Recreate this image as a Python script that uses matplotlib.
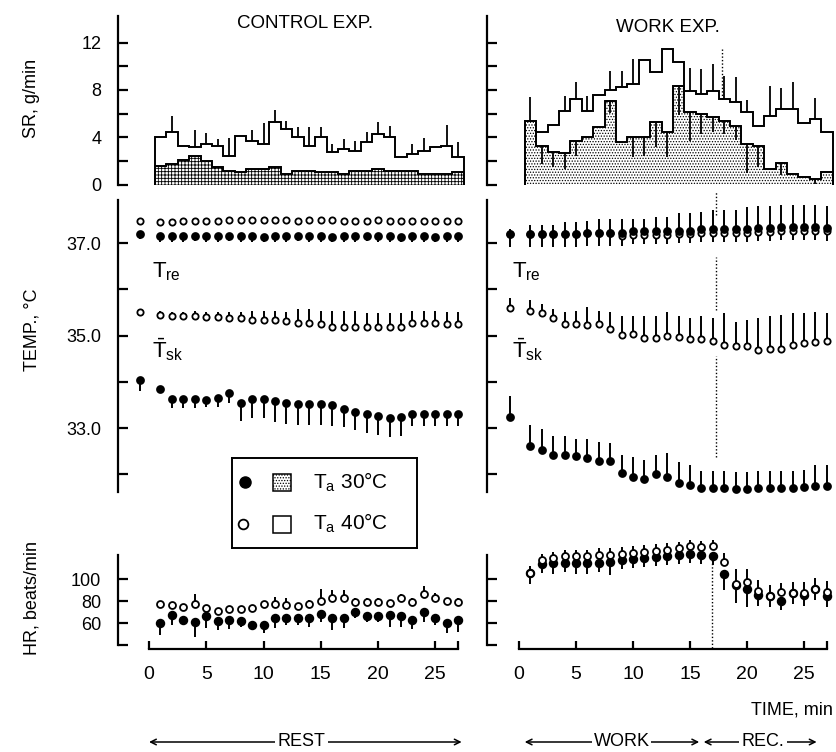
import matplotlib.pyplot as plt
from matplotlib.transforms import blended_transform_factory
import numpy as np

plt.rcParams['font.family'] = ['Liberation Sans', 'DejaVu Sans']
plt.rcParams['mathtext.fontset'] = 'custom'
plt.rcParams['mathtext.rm'] = 'Liberation Sans'
plt.rcParams['mathtext.it'] = 'Liberation Sans'
plt.rcParams['hatch.linewidth'] = 0.6

# time points in minutes; temperature lists start with a pre-exposure reading
minutes = list(range(1, 28))
t_pre = -0.8
t_temp = [t_pre] + minutes
bar_edges = [m - 0.5 for m in minutes] + [minutes[-1] + 0.5]
rec_start = 17

# sweat rate (g/min), control (rest) experiment
sr_ctrl_40 = [4.06, 4.42, 3.3, 3.15, 3.44, 3.3, 2.37, 4.14, 3.72, 3.44, 5.27, 4.7, 4.0, 3.3,
              4.0, 2.73, 3.0, 2.87, 3.58, 4.28, 4.06, 2.31, 2.6, 2.87, 3.15, 3.3, 2.31]
sr_ctrl_40_sd = [0, 1.4, 0, 1.45, 0.9, 0.55, 1.6, 0, 0.85, 1.75, 1.0, 0.7, 0.85, 1.55,
                 0.85, 0.7, 0.85, 0.85, 0.85, 1.0, 0.85, 0, 0.85, 1.1, 0, 1.7, 1.27]
sr_ctrl_30 = [1.6, 1.75, 2.09, 2.45, 2.03, 1.47, 1.18, 1.04, 1.33, 1.33, 1.47, 0.9, 1.18, 1.18,
              1.04, 1.04, 0.9, 1.13, 1.18, 1.33, 1.13, 1.18, 1.13, 0.9, 0.85, 0.9, 1.04]
sr_ctrl_30_sd = [0] * 27

# sweat rate (g/min), work experiment
sr_work_40 = [5.41, 4.42, 5.07, 6.26, 7.24, 6.26, 7.58, 8.0, 8.23, 8.51, 10.54, 9.5, 11.47, 10.34,
              7.89, 7.67, 7.89, 7.24, 6.96, 6.11, 4.99, 5.83, 6.4, 6.4, 5.18, 5.55, 4.42]
sr_work_40_sd = [1.97, 0, 0, 1.27, 1.41, 1.27, 0, 1.63, 1.35, 2.1, 0, 0, 0, 0,
                 2.0, 2.1, 2.3, 1.97, 2.1, 1.0, 0, 2.5, 1.8, 2.25, 0, 1.8, 0]
sr_work_30 = [5.41, 3.3, 2.73, 2.65, 3.72, 4.0, 4.9, 7.04, 3.58, 4.0, 4.0, 5.27, 4.42, 8.37,
              6.11, 5.98, 5.75, 5.41, 4.99, 3.44, 3.3, 1.33, 1.8, 0.9, 0.62, 0.48, 1.04]
sr_work_30_sd = [0, 1.55, 1.27, 1.3, 1.27, 0, 0, 1.0, 0, 1.7, 1.55, 2.1, 2.1, 2.5,
                 2.4, 1.7, 1.3, 1.1, 1.2, 2.5, 1.8, 0, 1.0, 0, 0, 0.4, 0]

# rectal temperature (deg C)
tre_ctrl_40 = [37.48, 37.45, 37.46, 37.47, 37.48, 37.48, 37.48, 37.5, 37.5, 37.5, 37.5, 37.5, 37.5, 37.48,
               37.5, 37.5, 37.5, 37.48, 37.48, 37.48, 37.5, 37.48, 37.48, 37.48, 37.48, 37.48, 37.48, 37.48]
tre_ctrl_30 = [37.2, 37.15, 37.15, 37.15, 37.16, 37.15, 37.15, 37.16, 37.15, 37.15, 37.14, 37.15, 37.15, 37.16,
               37.15, 37.15, 37.14, 37.15, 37.15, 37.16, 37.15, 37.15, 37.14, 37.15, 37.15, 37.14, 37.15, 37.15]
tre_work_40 = [37.2, 37.2, 37.2, 37.2, 37.2, 37.2, 37.22, 37.22, 37.22, 37.16, 37.17, 37.17, 37.17, 37.17,
               37.19, 37.19, 37.22, 37.22, 37.22, 37.22, 37.22, 37.24, 37.24, 37.27, 37.27, 37.27, 37.27, 37.25]
tre_work_40_sd = [0.1, 0.2, 0.2, 0.2, 0.25, 0.25, 0.25, 0.3, 0.3, 0.35, 0.35, 0.35, 0.4, 0.4,
                  0.45, 0.45, 0.45, 0.5, 0.5, 0.5, 0.55, 0.55, 0.55, 0.55, 0.55, 0.55, 0.55, 0.55]
tre_work_30 = [37.2, 37.2, 37.2, 37.2, 37.2, 37.2, 37.22, 37.22, 37.22, 37.22, 37.25, 37.25, 37.25, 37.25,
               37.27, 37.27, 37.3, 37.3, 37.3, 37.3, 37.3, 37.32, 37.32, 37.35, 37.35, 37.35, 37.35, 37.33]

# mean skin temperature (deg C)
tsk_ctrl_40 = [35.52, 35.45, 35.43, 35.43, 35.43, 35.41, 35.41, 35.37, 35.37, 35.34, 35.34, 35.34, 35.32, 35.28,
               35.28, 35.24, 35.19, 35.19, 35.19, 35.19, 35.19, 35.19, 35.19, 35.28, 35.28, 35.28, 35.26, 35.26]
tsk_ctrl_40_sd = [0.05, 0.08, 0.08, 0.08, 0.1, 0.1, 0.1, 0.15, 0.15, 0.2, 0.2, 0.2, 0.2, 0.3,
                  0.3, 0.3, 0.35, 0.35, 0.35, 0.3, 0.3, 0.3, 0.3, 0.25, 0.25, 0.25, 0.25, 0.25]
tsk_ctrl_30 = [34.05, 33.85, 33.64, 33.64, 33.64, 33.61, 33.66, 33.75, 33.55, 33.62, 33.62, 33.59, 33.54, 33.52,
               33.52, 33.52, 33.5, 33.42, 33.35, 33.3, 33.26, 33.21, 33.23, 33.3, 33.3, 33.3, 33.3, 33.3]
tsk_ctrl_30_sd = [0.25, 0, 0.2, 0.2, 0.2, 0.15, 0.2, 0.2, 0.4, 0.4, 0.4, 0.45, 0.45, 0.45,
                  0.45, 0.45, 0.45, 0.4, 0.4, 0.4, 0.4, 0.4, 0.4, 0.25, 0.25, 0.25, 0.25, 0.25]
tsk_work_40 = [35.59, 35.53, 35.48, 35.38, 35.26, 35.24, 35.22, 35.24, 35.14, 35.02, 35.04, 34.95, 34.95, 34.99,
               34.97, 34.92, 34.92, 34.88, 34.79, 34.78, 34.78, 34.68, 34.7, 34.72, 34.8, 34.83, 34.86, 34.88]
tsk_work_40_sd = [0.22, 0.24, 0.2, 0.2, 0.25, 0.3, 0.4, 0.3, 0.38, 0.4, 0.38, 0.48, 0.48, 0.52,
                  0.45, 0.45, 0.5, 0.5, 0.69, 0.52, 0.55, 0.69, 0.72, 0.72, 0.68, 0.65, 0.64, 0.6]
tsk_work_30 = [33.25, 32.61, 32.53, 32.43, 32.43, 32.39, 32.35, 32.3, 32.3, 32.02, 31.95, 31.91, 32.0, 31.95,
               31.82, 31.78, 31.7, 31.7, 31.7, 31.68, 31.68, 31.7, 31.7, 31.7, 31.7, 31.72, 31.76, 31.76]
tsk_work_30_sd = [0.45, 0.45, 0.45, 0.39, 0.39, 0.37, 0.42, 0.4, 0.37, 0.39, 0.43, 0.4, 0.42, 0.52,
                  0.45, 0.42, 0.37, 0.37, 0.37, 0.37, 0.37, 0.37, 0.37, 0.37, 0.37, 0.37, 0.45, 0.45]

# heart rate (beats/min)
hr_ctrl_40 = [77.8, 76.4, 74.8, 77.2, 73.4, 71.2, 72.4, 72.4, 73.4, 77.2, 77.8, 76.4, 75.4, 77.8,
              80.2, 82.4, 82.4, 79.4, 79.4, 79.4, 78.4, 82.4, 79.4, 86.4, 82.4, 80.2, 79.4]
hr_ctrl_40_sd = [2, 3, 3, 9.6, 3, 2, 2, 2, 3, 3, 6, 6, 3, 3,
                 11, 7.6, 8, 3, 3, 3, 3, 4, 3, 7.2, 5, 3, 3]
hr_ctrl_30 = [59.6, 67.2, 63.2, 61.2, 66.4, 62.0, 63.2, 62.0, 58.2, 58.2, 64.8, 64.8, 64.2, 64.8,
              68.2, 64.8, 64.2, 70.2, 66.4, 66.4, 67.2, 66.4, 63.2, 70.2, 64.8, 60.2, 62.6]
hr_ctrl_30_sd = [10.6, 9, 5.2, 13.6, 11.2, 8.4, 8.2, 5.4, 3, 7.6, 9.6, 6.6, 6, 8.2,
                 7, 11.2, 9, 6, 5.2, 5.2, 10.6, 9.6, 9, 9, 6.6, 9.6, 10.6]
hr_work_40 = [106, 117, 119, 121, 121, 121, 122, 122, 123, 124, 125, 126, 127, 128,
              130, 129, 130, 115.7, 95.5, 97.5, 89.4, 84.5, 88.5, 87.7, 87, 90.7, 88.5]
hr_work_40_sd = [6, 6, 6, 6, 6, 6, 6, 6, 6, 6, 6, 6, 6, 6,
                 6, 6, 6, 8, 14, 12, 10, 10, 8, 10, 10, 10, 10]
hr_work_30 = [105.2, 113.8, 114.8, 114.8, 114.8, 114.8, 114.8, 115.8, 117, 118, 119, 120, 121, 122,
              123, 122, 121, 104.5, 94.5, 90.6, 85.5, 84.5, 80.3, 87.5, 85.5, 90.6, 84.5]
hr_work_30_sd = [10, 8, 10, 8, 10, 10, 8, 12, 8, 8, 8, 8, 8, 8,
                 8, 8, 8, 14, 16, 16, 10, 10, 8, 10, 10, 10, 10]

W, H = 836, 752
fig = plt.figure(figsize=(W / 100, H / 100), dpi=100)


def box(x0, y0, x1, y1):
    return [x0 / W, 1 - y1 / H, (x1 - x0) / W, (y1 - y0) / H]


cols = {'ctrl': (118, 470, (-2.71, 28.03)), 'work': (487, 836, (-2.81, 27.8))}
rows = {'sr': (15.5, 184.5, (0, 14.3), [0, 4, 8, 12], [2, 6, 10], '{:.0f}'),
        'temp': (200, 492, (31.62, 37.93), [33, 35, 37], [32, 34, 36], '{:.1f}'),
        'hr': (555, 645, (40, 122), [60, 80, 100], [40], '{:.0f}')}

axes = {}
for c, (x0, x1, xl) in cols.items():
    for r, (y0, y1, yl, major, minor, fmt) in rows.items():
        ax = fig.add_axes(box(x0, y0, x1, y1))
        ax.patch.set_visible(False)
        for s in ['top', 'right', 'bottom']:
            ax.spines[s].set_visible(False)
        ax.spines['left'].set_linewidth(1.6)
        ax.set_xlim(xl)
        ax.set_ylim(yl)
        ax.set_xticks([])
        ax.set_yticks(major)
        ax.set_yticks(minor, minor=True)
        ax.tick_params(axis='y', which='both', direction='in', length=7, width=1.6,
                       pad=12, labelsize=13)
        if c == 'ctrl':
            ax.set_yticklabels([fmt.format(v) for v in major])
        else:
            ax.set_yticklabels([])
        axes[(c, r)] = ax


def draw_sr(ax, v40, sd40, v30, sd30, hatch):
    ax.stairs(v30, bar_edges, baseline=0, fill=True, facecolor='white',
              edgecolor='black', hatch=hatch, lw=1.2)
    ax.stairs(v30, bar_edges, baseline=0, fill=False, color='black', lw=1.3)
    ax.stairs(v40, bar_edges, baseline=0, fill=False, color='black', lw=1.4)
    v40, sd40, v30, sd30 = map(np.array, (v40, sd40, v30, sd30))
    m = sd40 > 0
    ax.vlines(np.array(minutes)[m], v40[m], v40[m] + sd40[m], color='black', lw=1.3)
    m = sd30 > 0
    ax.vlines(np.array(minutes)[m], v30[m] - sd30[m], v30[m], color='black', lw=1.3)


def draw_pts(ax, t, v, sd, filled, up, ms=5.5):
    t, v = np.array(t), np.array(v)
    sd = np.zeros_like(v) if sd is None else np.array(sd)
    lo = v if up else v - sd
    hi = v + sd if up else v
    ax.vlines(t, lo, hi, color='black', lw=1.4, clip_on=False, zorder=2)
    ax.plot(t, v, 'o', ms=ms if filled else ms - 0.5, mfc='black' if filled else 'white',
            mec='black', mew=1.3, ls='none', clip_on=False, zorder=3)


draw_sr(axes[('ctrl', 'sr')], sr_ctrl_40, sr_ctrl_40_sd, sr_ctrl_30, sr_ctrl_30_sd, '+++++')
draw_sr(axes[('work', 'sr')], sr_work_40, sr_work_40_sd, sr_work_30, sr_work_30_sd, '......')

ax = axes[('ctrl', 'temp')]
draw_pts(ax, t_temp, tre_ctrl_40, [0.06] * 28, False, True, ms=5)
draw_pts(ax, t_temp, tre_ctrl_30, [0.12] * 28, True, False, ms=5)
draw_pts(ax, t_temp, tsk_ctrl_40, tsk_ctrl_40_sd, False, True, ms=5)
draw_pts(ax, t_temp, tsk_ctrl_30, tsk_ctrl_30_sd, True, False, ms=5)

ax = axes[('work', 'temp')]
draw_pts(ax, t_temp, tre_work_40, tre_work_40_sd, False, True, ms=5)
draw_pts(ax, t_temp, tre_work_30, [0.28] * 28, True, False, ms=5)
draw_pts(ax, t_temp, tsk_work_40, tsk_work_40_sd, False, True, ms=5)
draw_pts(ax, t_temp, tsk_work_30, tsk_work_30_sd, True, True, ms=5)

ax = axes[('ctrl', 'hr')]
draw_pts(ax, minutes, hr_ctrl_30, hr_ctrl_30_sd, True, False)
draw_pts(ax, minutes, hr_ctrl_40, hr_ctrl_40_sd, False, True)

ax = axes[('work', 'hr')]
draw_pts(ax, minutes, hr_work_30, hr_work_30_sd, True, False)
draw_pts(ax, minutes, hr_work_40, hr_work_40_sd, False, True)

# labels of the temperature curves
for xt in [152, 512]:
    fig.text(xt / W, 1 - 272 / H, r'$\mathregular{T_{re}}$', fontsize=16, va='center')
    fig.text(xt / W, 1 - 350 / H, r'$\mathregular{\bar{T}_{sk}}$', fontsize=16, va='center')

# end of work / start of recovery
dots = (0, (1, 1.5))
axes[('work', 'sr')].vlines(rec_start + 0.8, sr_work_40[17], 11.6, color='black', lw=1,
                            linestyles=dots)
ax = axes[('work', 'temp')]
ax.vlines(rec_start + 0.3, 37.6, 38.1, color='black', lw=1, linestyles=dots, clip_on=False)
ax.vlines(rec_start + 0.3, 35.55, 36.7, color='black', lw=1, linestyles=dots)
ax.vlines(rec_start + 0.3, 32.38, 34.55, color='black', lw=1, linestyles=dots)
axes[('work', 'hr')].vlines(rec_start - 0.1, 37, 122, color='black', lw=1,
                            linestyles=dots, clip_on=False)

# time axes below the heart rate panels
for c in cols:
    ax = axes[(c, 'hr')]
    ax.spines['bottom'].set_visible(True)
    ax.spines['bottom'].set_position(('outward', 3))
    ax.spines['bottom'].set_bounds(0, 27)
    ax.spines['bottom'].set_linewidth(1.6)
    ax.set_xticks([0, 5, 10, 15, 20, 25])
    ax.set_xticks([27], minor=True)
    ax.tick_params(axis='x', which='both', direction='in', length=6, width=1.6,
                   pad=12, labelsize=14)

# panel titles and axis labels
fig.text(305 / W, 1 - 24 / H, 'CONTROL EXP.', fontsize=13.5, ha='center', va='center')
fig.text(668 / W, 1 - 27 / H, 'WORK EXP.', fontsize=13.5, ha='center', va='center')
fig.text(32 / W, 1 - 98 / H, 'SR, g/min', fontsize=13, rotation=90, ha='center', va='center')
fig.text(32 / W, 1 - 330 / H, 'TEMP., °C', fontsize=13, rotation=90, ha='center', va='center')
fig.text(32 / W, 1 - 598 / H, 'HR, beats/min', fontsize=13, rotation=90, ha='center', va='center')
fig.text(833 / W, 1 - 710 / H, 'TIME, min', fontsize=13, ha='right', va='center')

# phase arrows
arrow = dict(arrowstyle='<->', lw=1.1, color='black', shrinkA=0, shrinkB=0,
             mutation_scale=10)
tr = blended_transform_factory(axes[('ctrl', 'hr')].transData, fig.transFigure)
y_arr = 1 - 742 / H
fig.add_artist(plt.Annotation('', xy=(0, y_arr), xytext=(27.3, y_arr), xycoords=tr,
                              textcoords=tr, arrowprops=arrow))
fig.text(13.3, y_arr, 'REST', transform=tr, fontsize=13, ha='center', va='center',
         bbox=dict(fc='white', ec='none', pad=2))
tr = blended_transform_factory(axes[('work', 'hr')].transData, fig.transFigure)
fig.add_artist(plt.Annotation('', xy=(0.5, y_arr), xytext=(15.8, y_arr), xycoords=tr,
                              textcoords=tr, arrowprops=arrow))
fig.text(9.0, y_arr, 'WORK', transform=tr, fontsize=13, ha='center', va='center',
         bbox=dict(fc='white', ec='none', pad=1))
fig.add_artist(plt.Annotation('', xy=(16.2, y_arr), xytext=(26.1, y_arr), xycoords=tr,
                              textcoords=tr, arrowprops=arrow))
fig.text(21.4, y_arr, 'REC.', transform=tr, fontsize=13, ha='center', va='center',
         bbox=dict(fc='white', ec='none', pad=2))

# legend box
lg = fig.add_axes(box(232, 458, 417, 548))
lg.set_xticks([])
lg.set_yticks([])
for s in lg.spines.values():
    s.set_linewidth(1.4)
lg.set_xlim(0, 1)
lg.set_ylim(0, 1)
lg.plot([0.07], [0.73], 'o', ms=8, mfc='black', mec='black')
lg.plot([0.06], [0.27], 'o', ms=7, mfc='white', mec='black', mew=1.3)
lg.add_patch(plt.Rectangle((0.22, 0.63), 0.1, 0.19, fc='white', ec='black', hatch='......', lw=1.1))
lg.add_patch(plt.Rectangle((0.22, 0.17), 0.1, 0.19, fc='white', ec='black', lw=1.1))
lg.text(0.44, 0.73, r'$\mathregular{T_a}$ 30°C', fontsize=15, va='center')
lg.text(0.44, 0.27, r'$\mathregular{T_a}$ 40°C', fontsize=15, va='center')

fig.savefig('out.png', dpi=100)
